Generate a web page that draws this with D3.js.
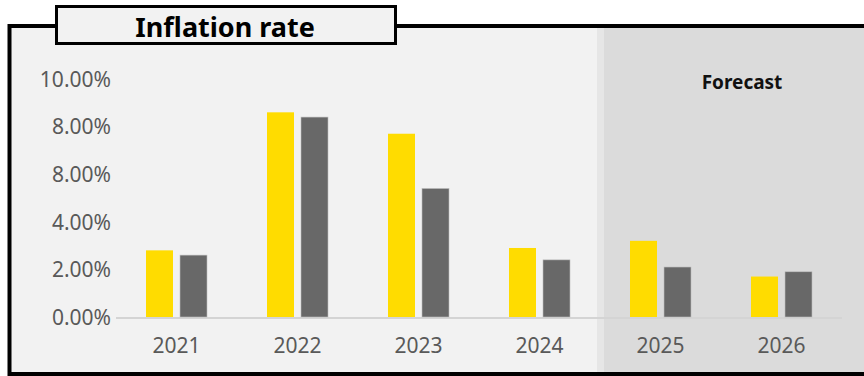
<!DOCTYPE html>
<html>
<head>
<meta charset="utf-8">
<script src="https://cdn.jsdelivr.net/npm/d3@7"></script>
<style>
  body { margin: 0; background: #fff; }
  svg { display: block; font-family: "Noto Sans", "Open Sans", sans-serif; }
</style>
</head>
<body>
<div id="chart"></div>
<script>
var years = ['2021', '2022', '2023', '2024', '2025', '2026']
var seriesA = [2.8, 8.6, 7.7, 2.9, 3.2, 1.7]   // yellow
var seriesB = [2.6, 8.4, 5.4, 2.4, 2.1, 1.9]   // grey
var tickValues = [0, 2, 4, 6, 8, 10]
var tickLabels = ['0.00%', '2.00%', '4.00%', '8.00%', '8.00%', '10.00%']
var forecastYears = ['2025', '2026']

var width = 864, height = 376

var svg = d3.select('#chart').append('svg')
    .attr('width', width)
    .attr('height', height)

// frame
svg.append('rect')
    .attr('x', 9.5).attr('y', 26)
    .attr('width', 870).attr('height', 348)
    .attr('fill', '#f2f2f2')
    .attr('stroke', '#000')
    .attr('stroke-width', 4)

var x0 = d3.scaleBand().domain(years).range([116, 842])
var x1 = d3.scaleBand().domain(['a', 'b']).range([30, 91]).paddingInner(7 / 34)
var y = d3.scaleLinear().domain([0, 10]).range([317, 79])

// forecast shading
var fx = x0(forecastYears[0]) - 3
svg.append('rect')
    .attr('x', fx).attr('y', 28)
    .attr('width', 7).attr('height', 344)
    .attr('fill', '#e6e6e6')
svg.append('rect')
    .attr('x', fx + 7).attr('y', 28)
    .attr('width', width - fx).attr('height', 344)
    .attr('fill', '#dbdbdb')

svg.append('text')
    .attr('x', x0(forecastYears[1]) + 21)
    .attr('y', 89)
    .attr('text-anchor', 'middle')
    .style('font-weight', 'bold')
    .style('font-size', '19px')
    .attr('fill', '#111')
    .text('Forecast')

// y axis labels (no line)
var yAxis = d3.axisLeft(y).tickValues(tickValues)
    .tickFormat(function (d, i) { return tickLabels[i] })
    .tickSize(0).tickPadding(0)
var gy = svg.append('g').attr('transform', 'translate(111,0)').call(yAxis)
gy.select('.domain').remove()
gy.selectAll('text').style('font-size', '21px').attr('fill', '#595959')
    .style('font-family', '"Noto Sans", sans-serif')
    .attr('dy', '0.35em')

// baseline
svg.append('line')
    .attr('x1', 116).attr('x2', 842)
    .attr('y1', y(0) + 1).attr('y2', y(0) + 1)
    .attr('stroke', '#d4d4d4').attr('stroke-width', 2)

// x axis labels
var xAxis = d3.axisBottom(x0).tickSize(0).tickPadding(0)
var gx = svg.append('g').attr('transform', 'translate(0,353)').call(xAxis)
gx.select('.domain').remove()
gx.selectAll('text').style('font-size', '21px').attr('fill', '#595959')
    .style('font-family', '"Noto Sans", sans-serif')
    .attr('dy', '0')

var groups = svg.selectAll('.year')
    .data(years)
    .enter().append('g')
    .attr('class', 'year')
    .attr('transform', function (d) { return 'translate(' + x0(d) + ',0)' })

groups.append('rect')
    .attr('x', x1('a'))
    .attr('y', function (d, i) { return y(seriesA[i]) })
    .attr('width', x1.bandwidth())
    .attr('height', function (d, i) { return y(0) - y(seriesA[i]) })
    .attr('fill', '#ffdc00')

groups.append('rect')
    .attr('x', x1('b'))
    .attr('y', function (d, i) { return y(seriesB[i]) })
    .attr('width', x1.bandwidth())
    .attr('height', function (d, i) { return y(0) - y(seriesB[i]) })
    .attr('fill', '#686868')
    .attr('stroke', '#bdbdbd')
    .attr('stroke-width', 0.6)

// title box
svg.append('rect')
    .attr('x', 56.5).attr('y', 6.5)
    .attr('width', 339).attr('height', 37)
    .attr('fill', '#f2f2f2')
    .attr('stroke', '#000')
    .attr('stroke-width', 3)
svg.append('text')
    .attr('x', 225).attr('y', 37)
    .attr('text-anchor', 'middle')
    .style('font-weight', 'bold')
    .style('font-size', '27px')
    .attr('fill', '#000')
    .text('Inflation rate')
</script>
</body>
</html>
